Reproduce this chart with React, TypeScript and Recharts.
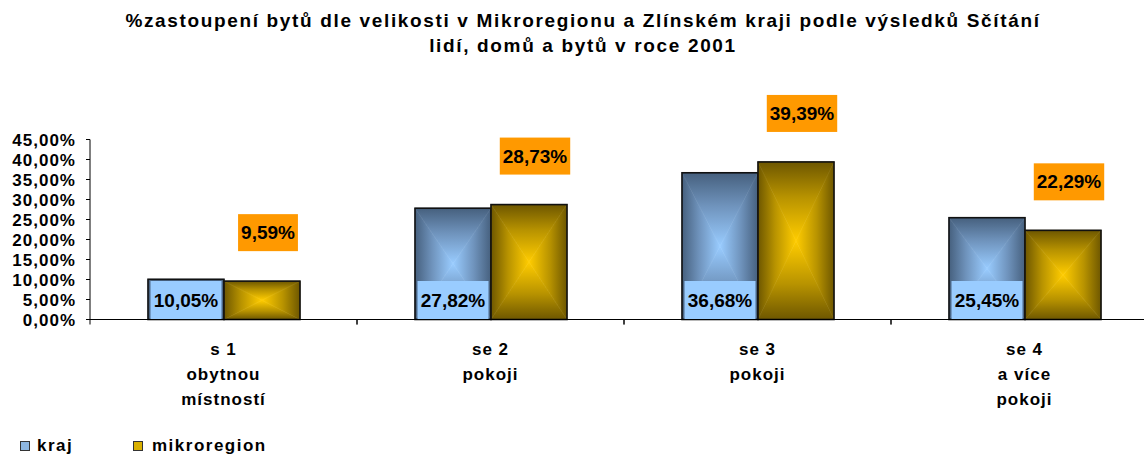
import { BarChart, Bar, XAxis, YAxis, LabelList } from "recharts";

// values (percent)
const categories = [
  "s 1\nobytnou\nmístností",
  "se 2\npokoji",
  "se 3\npokoji",
  "se 4\na více\npokoji",
];
const kraj = [10.05, 27.82, 36.68, 25.45];
const mikroregion = [9.59, 28.73, 39.39, 22.29];
const yTicks = [0, 5, 10, 15, 20, 25, 30, 35, 40, 45];
const seriesNames = ["kraj", "mikroregion"];
const titleLines = [
  "%zastoupení bytů dle velikosti v Mikroregionu a Zlínském kraji podle výsledků Sčítání",
  "lidí, domů a bytů v roce 2001",
];

const data = categories.map((name, i) => ({
  name,
  kraj: kraj[i],
  mikroregion: mikroregion[i],
}));

const FONT = "'Liberation Sans', Arial, sans-serif";

function fmt(v: number): string {
  return v.toFixed(2).replace(".", ",") + "%";
}

// rough Arial bold width of a label like "39,39%"
function labelWidth(s: string, size: number): number {
  let w = 0;
  for (const ch of s) {
    if (ch === ",") w += 0.278;
    else if (ch === "%") w += 0.889;
    else w += 0.556;
  }
  return w * size;
}

// rectangle "from center" gradient built out of four triangles
function makeShape(id: string, light: string, mid: string, dark: string) {
  return (props: any) => {
    const { x, y, width: w, height: h } = props;
    if (!w || !h) return <g />;
    const cx = x + w / 2;
    const cy = y + h / 2;
    const grad = (gid: string, x1: number, y1: number, x2: number, y2: number) => (
      <linearGradient id={gid} x1={x1} y1={y1} x2={x2} y2={y2}>
        <stop offset="0" stopColor={dark} />
        <stop offset="0.45" stopColor={mid} />
        <stop offset="1" stopColor={light} />
      </linearGradient>
    );
    const tri = (pts: string, f: string) => (
      <polygon points={pts} fill={f} stroke={f} strokeWidth={0.6} />
    );
    return (
      <g>
        <defs>
          {grad(`${id}-t`, 0, 0, 0, 1)}
          {grad(`${id}-b`, 0, 1, 0, 0)}
          {grad(`${id}-l`, 0, 0, 1, 0)}
          {grad(`${id}-r`, 1, 0, 0, 0)}
        </defs>
        {tri(`${x},${y} ${x + w},${y} ${cx},${cy}`, `url(#${id}-t)`)}
        {tri(`${x},${y + h} ${x + w},${y + h} ${cx},${cy}`, `url(#${id}-b)`)}
        {tri(`${x},${y} ${x},${y + h} ${cx},${cy}`, `url(#${id}-l)`)}
        {tri(`${x + w},${y} ${x + w},${y + h} ${cx},${cy}`, `url(#${id}-r)`)}
        <rect x={x} y={y} width={w} height={h} fill="none" stroke="#111" strokeWidth={1.6} />
      </g>
    );
  };
}

const krajShape = makeShape("gk", "#99CCFF", "#6F93BC", "#46607E");
const mikroShape = makeShape("gm", "#FFCC00", "#B89300", "#6E5700");

const KrajLabel = (p: any) => {
  const { x, y, width, height, value } = p;
  const bottom = y + height;
  return (
    <g>
      <rect x={x + 2.5} y={bottom - 38.5} width={width - 5} height={38} fill="#99CCFF" />
      <text
        x={x + width / 2}
        y={bottom - 19.5}
        textAnchor="middle"
        dominantBaseline="central"
        fontSize={19}
        fontWeight="bold"
        fill="#000"
      >
        {fmt(value)}
      </text>
    </g>
  );
};

const MikroLabel = (p: any) => {
  const { x, y, width, value } = p;
  const s = fmt(value);
  const bw = labelWidth(s, 19) + 6;
  const cx = x + width / 2 + 6;
  const bottom = y - 30;
  return (
    <g>
      <rect x={cx - bw / 2} y={bottom - 37} width={bw} height={37} fill="#FF9900" />
      <text
        x={cx}
        y={bottom - 18.5}
        textAnchor="middle"
        dominantBaseline="central"
        fontSize={19}
        fontWeight="bold"
        fill="#000"
      >
        {s}
      </text>
    </g>
  );
};

const CategoryTick = (p: any) => {
  const { x, y, payload } = p;
  const half = payload?.offset || 133.5;
  const lines = String(payload.value).split("\n");
  return (
    <g>
      <line x1={x - half} x2={x - half} y1={y} y2={y + 5} stroke="#000" />
      <line x1={x + half} x2={x + half} y1={y} y2={y + 5} stroke="#000" />
      <text textAnchor="middle" fontSize={17} fontWeight="bold" fill="#000" letterSpacing={1}>
        {lines.map((l, i) => (
          <tspan key={i} x={x} y={y + 35.5 + i * 25}>
            {l}
          </tspan>
        ))}
      </text>
    </g>
  );
};

export default function App() {
  return (
    <div
      style={{
        position: "absolute",
        left: 0,
        top: 0,
        width: 1144,
        height: 455,
        overflow: "hidden",
        background: "#fff",
        fontFamily: FONT,
      }}
    >
      <BarChart
        width={1158}
        height={455}
        data={data}
        margin={{ top: 139.5, right: 0, left: 0, bottom: 45 }}
        barGap={0}
        barSize={76}
      >
        <XAxis
          dataKey="name"
          interval={0}
          tickSize={0}
          tickMargin={0}
          height={90.5}
          axisLine={{ stroke: "#000", strokeWidth: 1 }}
          tick={<CategoryTick />}
        />
        <YAxis
          width={90}
          domain={[0, 45]}
          ticks={yTicks}
          interval={0}
          tickSize={4}
          tickMargin={10}
          tickFormatter={fmt}
          axisLine={{ stroke: "#000", strokeWidth: 1 }}
          tickLine={{ stroke: "#000" }}
          tick={{ fontSize: 17, fontWeight: "bold", fill: "#000", letterSpacing: 1 }}
        />
        <Bar dataKey="kraj" shape={krajShape} isAnimationActive={false}>
          <LabelList dataKey="kraj" content={<KrajLabel />} />
        </Bar>
        <Bar dataKey="mikroregion" shape={mikroShape} isAnimationActive={false}>
          <LabelList dataKey="mikroregion" content={<MikroLabel />} />
        </Bar>
      </BarChart>

      <svg
        width={1144}
        height={455}
        style={{ position: "absolute", left: 0, top: 0, pointerEvents: "none" }}
      >
        {titleLines.map((t, i) => (
          <text
            key={i}
            x={583}
            y={26.5 + i * 25.5}
            textAnchor="middle"
            fontSize={19}
            fontWeight="bold"
            letterSpacing={1.65}
            fill="#000"
          >
            {t}
          </text>
        ))}
        <rect x={20.5} y={441.5} width={9} height={9} fill="#8DB6E0" stroke="#333" />
        <text x={37} y={451} fontSize={17} fontWeight="bold" letterSpacing={1.5} fill="#000">
          {seriesNames[0]}
        </text>
        <rect x={133.5} y={441.5} width={9} height={9} fill="#D9B000" stroke="#333" />
        <text x={152} y={451} fontSize={17} fontWeight="bold" letterSpacing={1.5} fill="#000">
          {seriesNames[1]}
        </text>
      </svg>
    </div>
  );
}
